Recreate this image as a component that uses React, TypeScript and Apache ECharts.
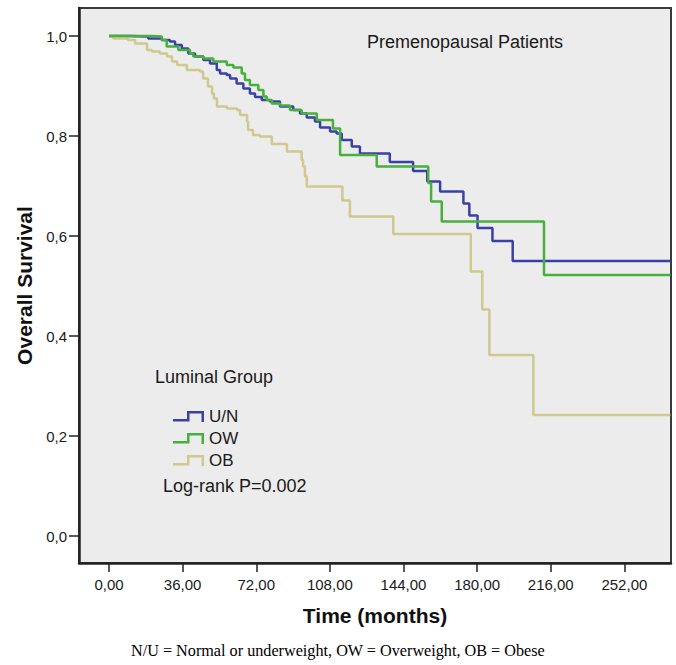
import React, { useEffect, useRef } from "react";
import * as echarts from "echarts";

// Kaplan-Meier steps: time (months) at which the curve drops, and survival after the drop
const unTime = [0, 10.3, 19.2, 25.8, 29.8, 32.3, 35.6, 38.8, 42.1, 46.1, 49.4, 52.7, 54.3, 57.6, 59.2, 62.4, 65.7, 68.9, 71.4, 74.7, 78.7, 83.6, 90.1, 93.4, 96.7, 100.7, 103.2, 108.1, 111.3, 113.8, 118.7, 122.7, 137.3, 148.7, 155.6, 161.9, 173.3, 176.2, 180.2, 187.5, 197.4, 274.5];
const unSurv = [1.0, 0.999, 0.995, 0.992, 0.989, 0.982, 0.975, 0.965, 0.959, 0.952, 0.945, 0.932, 0.925, 0.922, 0.915, 0.905, 0.895, 0.885, 0.878, 0.872, 0.869, 0.859, 0.852, 0.845, 0.837, 0.829, 0.817, 0.809, 0.805, 0.792, 0.779, 0.765, 0.748, 0.73, 0.709, 0.689, 0.665, 0.641, 0.616, 0.59, 0.55, 0.55];

const owTime = [0, 20.9, 25.8, 28.2, 33.9, 39.6, 41.2, 46.1, 51.0, 57.6, 60.8, 64.9, 66.5, 68.9, 73.0, 75.5, 77.1, 79.6, 83.6, 88.5, 94.2, 101.6, 109.5, 113.0, 130.9, 156.1, 157.5, 162.7, 212.7, 274.5];
const owSurv = [1.0, 0.999, 0.992, 0.979, 0.972, 0.965, 0.959, 0.955, 0.949, 0.942, 0.937, 0.925, 0.912, 0.902, 0.892, 0.879, 0.872, 0.865, 0.861, 0.852, 0.845, 0.832, 0.815, 0.762, 0.739, 0.706, 0.669, 0.629, 0.522, 0.522];

const obTime = [0, 2.0, 9.3, 12.7, 18.6, 21.0, 24.9, 28.4, 30.8, 33.3, 38.1, 44.5, 46.0, 48.4, 50.4, 51.3, 52.8, 57.7, 62.6, 64.1, 67.5, 68.0, 70.4, 73.8, 79.6, 87.0, 94.2, 94.9, 95.8, 96.7, 114.1, 117.8, 139.0, 176.9, 182.5, 186.0, 207.5, 274.5];
const obSurv = [1.0, 0.995, 0.992, 0.985, 0.972, 0.969, 0.965, 0.959, 0.949, 0.942, 0.932, 0.929, 0.915, 0.899, 0.885, 0.875, 0.859, 0.855, 0.852, 0.842, 0.829, 0.812, 0.802, 0.799, 0.784, 0.769, 0.752, 0.739, 0.719, 0.699, 0.671, 0.639, 0.604, 0.529, 0.453, 0.362, 0.242, 0.242];

const groupNames = ["U/N", "OW", "OB"];
const groupColors = ["#3a40a8", "#46b03c", "#cdc98f"];

const xTicks = [0, 36, 72, 108, 144, 180, 216, 252];
const yTicks = [0, 0.2, 0.4, 0.6, 0.8, 1.0];

const zip = (t: number[], s: number[]) => t.map((v, i) => [v, s[i]]);

const stepIcon = "path://M0,8 L14,8 L14,0 L31,0 L31,11 L28.5,11 L28.5,2.5 L16.5,2.5 L16.5,10.5 L0,10.5 Z";

export default function App() {
  const ref = useRef<HTMLDivElement>(null);
  useEffect(() => {
    if (!ref.current) return;
    const chart = echarts.init(ref.current, null, { renderer: "svg" });
    const sans = "'Liberation Sans', Arial, sans-serif";
    const seriesData = [zip(unTime, unSurv), zip(owTime, owSurv), zip(obTime, obSurv)];
    chart.setOption({
      animation: false,
      backgroundColor: "#ffffff",
      grid: {
        left: 79,
        top: 8,
        width: 592,
        height: 555,
        show: true,
        backgroundColor: "#ececec",
        borderColor: "#3a3a3a",
        borderWidth: 2,
      },
      xAxis: {
        type: "value",
        min: -14.67,
        max: 274.8,
        name: "Time (months)",
        nameLocation: "middle",
        nameGap: 42,
        nameTextStyle: { fontFamily: sans, fontSize: 21, fontWeight: "bold", color: "#111" },
        axisLine: { show: true, onZero: false, lineStyle: { color: "#222", width: 2.5 } },
        axisTick: { show: true, customValues: xTicks, length: 9, lineStyle: { color: "#222", width: 1.5 } },
        axisLabel: {
          customValues: xTicks,
          margin: 14,
          fontFamily: sans,
          fontSize: 15,
          color: "#1a1a1a",
          formatter: (v: number) => v.toFixed(2).replace(".", ","),
        },
        splitLine: { show: false },
      },
      yAxis: {
        type: "value",
        min: -0.054,
        max: 1.056,
        name: "Overall Survival",
        nameLocation: "middle",
        nameGap: 44,
        nameTextStyle: { fontFamily: sans, fontSize: 21, fontWeight: "bold", color: "#111" },
        axisLine: { show: true, onZero: false, lineStyle: { color: "#222", width: 2.5 } },
        axisTick: { show: true, customValues: yTicks, length: 10, lineStyle: { color: "#222", width: 1.5 } },
        axisLabel: {
          customValues: yTicks,
          margin: 12,
          fontFamily: sans,
          fontSize: 15,
          color: "#1a1a1a",
          formatter: (v: number) => v.toFixed(1).replace(".", ","),
        },
        splitLine: { show: false },
      },
      legend: {
        data: groupNames,
        orient: "vertical",
        left: 173,
        top: 408,
        icon: stepIcon,
        itemWidth: 31,
        itemHeight: 11,
        itemGap: 5,
        itemStyle: { borderWidth: 0 },
        textStyle: { fontFamily: sans, fontSize: 17, lineHeight: 17, color: "#1a1a1a", padding: [0, 0, 0, 0] },
        padding: 0,
      },
      graphic: [
        {
          type: "text",
          left: 367,
          top: 33,
          style: { text: "Premenopausal Patients", font: `18px ${sans}`, fill: "#1a1a1a" },
        },
        {
          type: "text",
          left: 155,
          top: 368,
          style: { text: "Luminal Group", font: `18px ${sans}`, fill: "#1a1a1a" },
        },
        {
          type: "text",
          left: 163,
          top: 477,
          style: { text: "Log-rank P=0.002", font: `18px ${sans}`, fill: "#1a1a1a" },
        },
        {
          type: "text",
          left: "center",
          top: 643,
          style: {
            text: "N/U = Normal or underweight, OW = Overweight, OB = Obese",
            font: "16.2px 'Liberation Serif', 'Times New Roman', serif",
            fill: "#000",
          },
        },
      ],
      series: groupNames.map((name, i) => ({
        name,
        type: "line",
        step: "end",
        data: seriesData[i],
        color: groupColors[i],
        showSymbol: false,
        symbol: "none",
        lineStyle: { color: groupColors[i], width: 2.5 },
        z: i === 1 ? 4 : 3,
      })),
    });
    return () => chart.dispose();
  }, []);
  return <div ref={ref} style={{ position: "absolute", left: 0, top: 0, width: 676, height: 665 }} />;
}
